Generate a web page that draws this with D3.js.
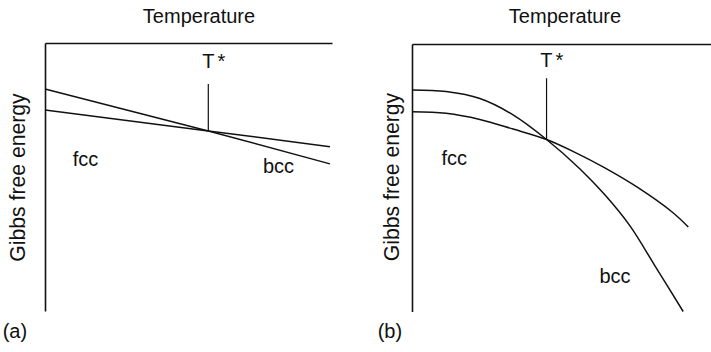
<!DOCTYPE html>
<html>
<head>
<meta charset="utf-8">
<script src="https://cdn.jsdelivr.net/npm/d3@7"></script>
<style>
  html, body { margin: 0; padding: 0; background: #fff; }
  svg { display: block; }
  text { font-family: "Liberation Sans", Arial, Helvetica, sans-serif; fill: #111; }
</style>
</head>
<body>
<svg id="chart" width="711" height="352"></svg>
<script>
// Temperature (arbitrary units, 0–100) and Gibbs free energy (arbitrary units, 0–100)

// (a) linear free-energy curves
const aTemps = [0, 56.9, 99.3];
const aFcc   = [75.0, 67.2, 61.3];
const aBcc   = [82.8, 67.2, 54.9];
const aTStar = 56.9;
const aTStarTop = 84.7;

// (b) curved free-energy curves
const bBccTemps = [0, 11.4, 22.7, 33.8, 45.0, 56.2, 64.5, 72.9, 81.3, 90.7];
const bBcc      = [82.8, 82.2, 79.6, 73.5, 64.3, 53.3, 43.6, 32.0, 17.0, 0];
const bFccTemps = [0, 11.4, 22.7, 33.8, 45.0, 54.5, 64.5, 75.6, 87.0, 92.4];
const bFcc      = [74.7, 74.1, 71.8, 68.2, 64.3, 59.5, 53.7, 46.3, 37.2, 31.6];
const bTStar = 45.0;
const bTStarTop = 87.2;

const xTitle = "Temperature";
const yTitle = "Gibbs free energy";
const phaseLabels = ["fcc", "bcc"];
const panelLabels = ["(a)", "(b)"];

const svg = d3.select("#chart");

function zip(xs, ys) { return xs.map((x, i) => ({ t: x, g: ys[i] })); }

const panels = [
  {
    xRange: [45, 332], yRange: [311, 43],
    fcc: zip(aTemps, aFcc), bcc: zip(aTemps, aBcc),
    curve: d3.curveLinear,
    tStar: aTStar, tStarTop: aTStarTop, cross: 67.2,
    title: { x: 199, y: 23 }, star: { x: 202.3, y: 68 },
    yLab: { x: 24.5, y: 177.5 },
    fccLab: { x: 72.8, y: 166 }, bccLab: { x: 263, y: 173 },
    tag: { x: 2.7, y: 338 }, label: panelLabels[0]
  },
  {
    xRange: [412, 711], yRange: [311.5, 44],
    fcc: zip(bFccTemps, bFcc), bcc: zip(bBccTemps, bBcc),
    curve: d3.curveCatmullRom.alpha(0.5),
    tStar: bTStar, tStarTop: bTStarTop, cross: 64.3,
    title: { x: 565, y: 23 }, star: { x: 540.3, y: 67 },
    yLab: { x: 398.5, y: 177 },
    fccLab: { x: 441.5, y: 165 }, bccLab: { x: 599.5, y: 283 },
    tag: { x: 377.7, y: 338 }, label: panelLabels[1]
  }
];

panels.forEach(p => {
  const x = d3.scaleLinear().domain([0, 100]).range(p.xRange);
  const y = d3.scaleLinear().domain([0, 100]).range(p.yRange);
  const g = svg.append("g");

  // frame: left axis and top axis, no ticks
  g.append("g")
    .attr("transform", `translate(${p.xRange[0]},0)`)
    .call(d3.axisLeft(y).tickValues([]).tickSizeOuter(0))
    .call(s => s.select(".domain").attr("stroke", "#111").attr("stroke-width", 1.6));
  g.append("g")
    .attr("transform", `translate(0,${p.yRange[1]})`)
    .call(d3.axisTop(x).tickValues([]).tickSizeOuter(0))
    .call(s => s.select(".domain").attr("stroke", "#111").attr("stroke-width", 1.6));

  const line = d3.line().x(d => x(d.t)).y(d => y(d.g)).curve(p.curve);
  [p.fcc, p.bcc].forEach(series => {
    g.append("path")
      .datum(series)
      .attr("fill", "none")
      .attr("stroke", "#111")
      .attr("stroke-width", 1.5)
      .attr("d", line);
  });

  // T* marker
  g.append("line")
    .attr("x1", x(p.tStar)).attr("x2", x(p.tStar))
    .attr("y1", y(p.tStarTop)).attr("y2", y(p.cross))
    .attr("stroke", "#111").attr("stroke-width", 1.2);

  const t = g.append("text").attr("x", p.star.x).attr("y", p.star.y).attr("font-size", 20);
  t.append("tspan").text("T");
  t.append("tspan").attr("dx", 3).text("*");

  g.append("text").attr("x", p.title.x).attr("y", p.title.y)
    .attr("text-anchor", "middle").attr("font-size", 20).text(xTitle);

  g.append("text")
    .attr("transform", `translate(${p.yLab.x},${p.yLab.y}) rotate(-90)`)
    .attr("text-anchor", "middle").attr("font-size", 21.2).text(yTitle);

  g.append("text").attr("x", p.fccLab.x).attr("y", p.fccLab.y)
    .attr("font-size", 20).text(phaseLabels[0]);
  g.append("text").attr("x", p.bccLab.x).attr("y", p.bccLab.y)
    .attr("font-size", 20).text(phaseLabels[1]);

  g.append("text").attr("x", p.tag.x).attr("y", p.tag.y)
    .attr("font-size", 20).text(p.label);
});
</script>
</body>
</html>
